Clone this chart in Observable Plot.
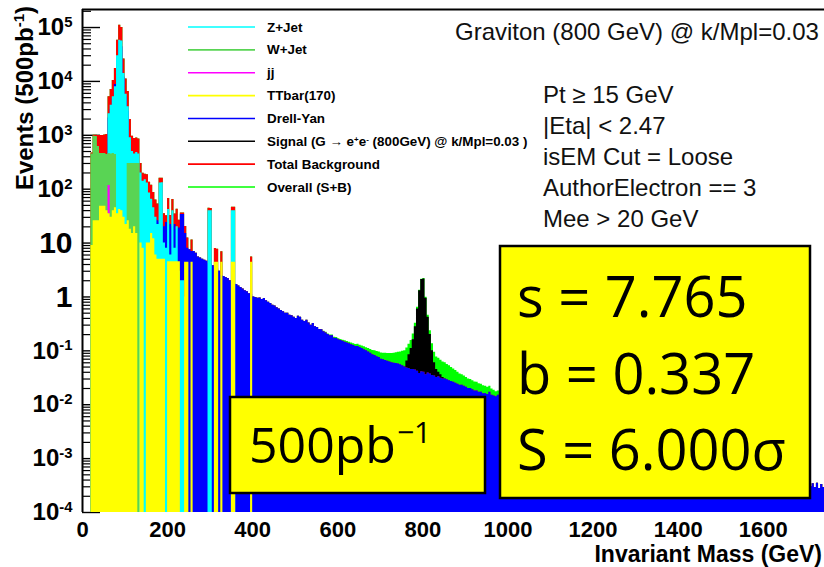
<!DOCTYPE html>
<html>
<head>
<meta charset="utf-8">
<script src="https://cdn.jsdelivr.net/npm/d3@7"></script>
<script src="https://cdn.jsdelivr.net/npm/@observablehq/plot@0.6"></script>
<style>
  body { margin: 0; background: #fff; }
  #chart { position: relative; width: 824px; height: 567px; }
</style>
</head>
<body>
<div id="chart"></div>
<script>
// ---- Binning (GeV) ----
const binWidth = 5;
const massMax = 1744;
const yMin = 1e-4;
const yMax = 2.16e5;

// ---- Z+Jet: 5 GeV bins from 20 GeV, plus isolated high-mass bins ----
const zJetStart = 20;
const zJetValues = [
  5, 10, 15, 150, 230, 230, 240, 300, 2500, 3600, 5200, 8000, 30000, 58000, 56000, 14000,
  5800, 3400, 900, 500, 450, 480, 450, 200, 140, 150, 130, 85, 65, 45, 30, 22,
  130, 132, 10, 8, 42, 6, 40, 8, 20, 3, 2, 2, 1
];
const zJetSpikeMass = [295, 300, 350, 355];
const zJetSpikeValues = [40, 40, 40, 40];

// ---- W+Jet: 5 GeV bins from 20 GeV ----
const wJetStart = 20;
const wJetValues = [
  450, 960, 950, 620, 460, 460, 460, 440, 460, 450, 460, 440, 20, 20, 20, 20, 20,
  300, 300, 300, 300, 300, 300
];

// ---- jj ----
const jjMass = [60];
const jjValues = [117];

// ---- TTbar(170): 5 GeV bins from 20 GeV ----
const ttbarStart = 20;
const ttbarValues = [
  9, 26, 26, 26, 48, 48, 48, 40, 35, 30, 40, 45, 35, 42, 40, 30,
  22, 26, 18, 15, 20, 15, 0, 10, 8, 0, 10, 10, 15, 12, 6, 5,
  5, 5, 5, 0, 4.5, 4.5, 4.5, 4.5, 4.5, 4.5, 0, 0, 4.4, 4.4, 0, 4.4,
  0, 0, 0, 0, 0, 0, 0, 0, 0, 0, 4.4, 4.4, 0, 4.4, 0, 0,
  0, 0, 4.4, 4.4, 0, 0, 0, 0, 0, 0, 0, 4.4
];

// ---- Drell-Yan: 5 GeV bins from 20 GeV to 1745 GeV ----
const drellYanStart = 20;
const drellYanValues = [
  5, 10, 15, 200, 250, 250, 260, 250, 2100, 3000, 4700, 8800, 28000, 52000, 44000, 12000,
  5200, 2800, 750, 150, 100, 100, 100, 90, 50, 40, 45, 40, 38, 30, 27, 26,
  24, 22, 20, 24, 21, 22, 20, 22, 18, 19, 34, 34, 15, 8, 7.5, 7,
  7, 6.5, 5.5, 5.3, 5, 4.8, 4.6, 4.2, 4.0, 3.8, 3.5, 3.3, 3.0, 2.5, 2.4, 2.3,
  2.2, 2.0, 1.9, 1.8, 1.7, 1.6, 1.5, 1.4, 1.3, 1.25, 1.15, 1.1,
  // 400 GeV
  1.0, 0.98, 0.95, 0.96, 0.9, 0.94, 0.85, 0.8, 0.76, 0.7, 0.68, 0.63, 0.6, 0.56, 0.53, 0.5,
  0.5, 0.46, 0.45, 0.42, 0.4, 0.44, 0.42, 0.37, 0.35, 0.37, 0.33, 0.3, 0.32, 0.28, 0.27, 0.25,
  0.245, 0.225, 0.215, 0.2, 0.19, 0.19, 0.172, 0.17, 0.16, 0.155, 0.15, 0.145, 0.14, 0.135, 0.13, 0.125,
  0.12, 0.12, 0.115, 0.11, 0.105, 0.1, 0.095, 0.09, 0.085, 0.082, 0.078, 0.075, 0.07, 0.068, 0.066, 0.064,
  0.062, 0.06, 0.059, 0.058, 0.057, 0.055, 0.053, 0.05, 0.048, 0.047, 0.045, 0.045, 0.044, 0.042, 0.038, 0.041,
  0.04, 0.036, 0.039, 0.037, 0.035, 0.034, 0.032, 0.033, 0.031, 0.03, 0.03, 0.029, 0.028, 0.027, 0.026, 0.025,
  0.024, 0.023, 0.023, 0.022, 0.021, 0.02, 0.02, 0.019, 0.018, 0.018, 0.017, 0.017, 0.016, 0.016, 0.0155, 0.017,
  0.015, 0.0145, 0.014, 0.015, 0.013, 0.013, 0.0125, 0.012,
  // 1000 GeV
  0.0118, 0.0115, 0.0112, 0.011, 0.0106, 0.0104, 0.0101, 0.0098, 0.0096, 0.0093,
  0.0091, 0.0089, 0.0086, 0.0084, 0.0082, 0.008, 0.0078, 0.0076, 0.0074, 0.0072,
  0.007, 0.0068, 0.0067, 0.0065, 0.0063, 0.0062, 0.006, 0.0058, 0.0057, 0.0055,
  0.0054, 0.0052, 0.0051, 0.005, 0.0048, 0.0047, 0.0046, 0.0045, 0.0043, 0.0042,
  0.0041, 0.004, 0.0039, 0.0038, 0.0037, 0.0036, 0.0035, 0.0034, 0.0033, 0.0032,
  0.0031, 0.003, 0.0029, 0.0029, 0.0028, 0.0027, 0.0026, 0.0026, 0.0025, 0.0024,
  0.0024, 0.0023, 0.0022, 0.0022, 0.0021, 0.0021, 0.002, 0.0019, 0.0019, 0.0018,
  0.0018, 0.0017, 0.0017, 0.0016, 0.0016, 0.0015, 0.0015, 0.0014, 0.0014, 0.0014,
  0.0013, 0.0013, 0.0012, 0.0012, 0.0012, 0.0011, 0.0011, 0.0011, 0.001, 0.001,
  0.00098, 0.00095, 0.00092, 0.0009, 0.00087, 0.00085, 0.00082, 0.0008, 0.00078, 0.00075,
  0.00073, 0.00071, 0.00069, 0.00067, 0.00065, 0.00063, 0.00062, 0.0006, 0.00058, 0.00057,
  0.00055, 0.00054, 0.00052, 0.00051, 0.0005, 0.00048, 0.00047, 0.00046, 0.00045, 0.00044,
  0.00043, 0.00042, 0.00041, 0.0004, 0.00039, 0.00038, 0.00037, 0.00037, 0.00036, 0.00035,
  0.00035, 0.00034, 0.00034, 0.00033, 0.00033, 0.00032, 0.00032, 0.00031, 0.00031, 0.0003,
  0.0003, 0.00036, 0.0003, 0.00034, 0.00029, 0.00035, 0.00028, 0.00033, 0.00029, 0.00034
];

// ---- Signal G -> ee (800 GeV), 5 GeV bins from 560 GeV ----
const signalStart = 560;
const signalValues = [
  0.005, 0.005, 0.006, 0.006, 0.006, 0.007, 0.007, 0.007, 0.008, 0.008, 0.008, 0.009, 0.009, 0.01, 0.01, 0.011,
  0.011, 0.012, 0.012, 0.013, 0.014, 0.014, 0.015, 0.016, 0.017, 0.018, 0.019, 0.02, 0.021, 0.022, 0.024, 0.025,
  0.027, 0.029, 0.031, 0.034, 0.037, 0.04, 0.045, 0.05, 0.065, 0.085, 0.11, 0.16, 0.28, 0.6, 1.3, 2.1,
  2.15, 0.95, 0.42, 0.2, 0.1, 0.06, 0.045, 0.04, 0.036, 0.032, 0.03, 0.027, 0.025, 0.022, 0.02, 0.018,
  0.016, 0.014, 0.013, 0.012, 0.011, 0.01, 0.0095, 0.009, 0.0085, 0.008, 0.0075, 0.007, 0.0065, 0.006, 0.0055, 0.005,
  0.0045, 0.004, 0.0035, 0.003, 0.0025, 0.002, 0.0015, 0.001
];

// ---- Axis ticks ----
const xTicks = [0, 200, 400, 600, 800, 1000, 1200, 1400, 1600];
const yMajorTicks = [1e-4, 1e-3, 1e-2, 1e-1, 1, 10, 1e2, 1e3, 1e4, 1e5];

// ---- Legend ----
const legendLabels = ["Z+Jet", "W+Jet", "jj", "TTbar(170)", "Drell-Yan",
  "Signal (G \u2192 e^{+}e^{-} (800GeV) @ k/Mpl=0.03 )", "Total Background", "Overall (S+B)"];
const legendColors = ["#00ffff", "#59d454", "#ff00ff", "#ffff00", "#0000ff", "#000000", "#ff0000", "#00ff00"];

const cutLines = ["Pt \u2265 15 GeV", "|Eta| < 2.47", "isEM Cut = Loose", "AuthorElectron == 3", "Mee > 20 GeV"];
const resultLines = ["s = 7.765", "b = 0.337", "S = 6.000\u03c3"];

// ---- Build binned series ----
const bins = d3.range(0, 1745, binWidth);
function dense(start, values) {
  const out = new Array(bins.length).fill(0);
  values.forEach((v, i) => {
    const k = Math.round((start + i * binWidth) / binWidth);
    if (k < out.length) out[k] = v;
  });
  return out;
}
function sparse(masses, values) {
  const out = new Array(bins.length).fill(0);
  masses.forEach((m, i) => { out[Math.round(m / binWidth)] = values[i]; });
  return out;
}
const zJetSpikes = sparse(zJetSpikeMass, zJetSpikeValues);
const zJetBins = dense(zJetStart, zJetValues).map((v, i) => v + zJetSpikes[i]);
const wJetBins = dense(wJetStart, wJetValues);
const jjBins = sparse(jjMass, jjValues);
const ttbarBins = dense(ttbarStart, ttbarValues);
const dyBins = dense(drellYanStart, drellYanValues);
const signalBins = dense(signalStart, signalValues);
const totalBins = bins.map((_, i) => zJetBins[i] + wJetBins[i] + jjBins[i] + ttbarBins[i] + dyBins[i]);
const overallBins = totalBins.map((v, i) => v + signalBins[i]);

// step outline of a histogram, floored at the bottom of the log axis
function steps(vals) {
  const pts = bins.map((lo, i) => ({m: lo, v: Math.max(vals[i], yMin)}));
  pts.push({m: bins[bins.length - 1] + binWidth, v: pts[pts.length - 1].v});
  return pts;
}
function hist(vals, color) {
  return Plot.areaY(steps(vals), {x: "m", y1: yMin, y2: "v", curve: "step-after", fill: color});
}

const yMinorTicks = [];
for (let k = -4; k <= 5; k++) for (let j = 2; j <= 9; j++) {
  const v = j * Math.pow(10, k);
  if (v < yMax) yMinorTicks.push(v);
}
function powLabel(d) {
  const k = Math.round(Math.log10(d));
  if (k === 0) return "1";
  if (k === 1) return "10";
  return "10^" + k;
}

const chart = Plot.plot({
  width: 824,
  height: 567,
  marginLeft: 82,
  marginRight: 0,
  marginTop: 9,
  marginBottom: 55,
  style: {fontFamily: "'Liberation Sans', Arial, sans-serif", background: "#fff"},
  x: {domain: [0, massMax]},
  y: {type: "log", domain: [yMin, yMax]},
  marks: [
    Plot.axisY({ticks: yMinorTicks, tickSize: -9, tickFormat: () => "", label: null, strokeWidth: 1.2}),
    Plot.axisY({ticks: yMajorTicks, tickSize: -18, tickFormat: () => "", label: null, strokeWidth: 1.4}),
    // overlaid (not stacked) histograms, back to front
    hist(overallBins, "#00ff00"),
    hist(signalBins, "#000000"),
    hist(totalBins, "#ff0000"),
    hist(dyBins, "#0000ff"),
    hist(zJetBins, "#00ffff"),
    hist(wJetBins, "#59d454"),
    hist(jjBins, "#ff00ff"),
    hist(ttbarBins, "#ffff00"),
    Plot.axisY({ticks: yMajorTicks, tickSize: 0, tickPadding: 10, tickFormat: powLabel,
      fontSize: 24, fontWeight: "bold", label: null}),
    Plot.axisX({ticks: xTicks, tickSize: 0, tickPadding: 9, tickFormat: d3.format("d"),
      fontSize: 22, fontWeight: "bold", label: null}),
    Plot.ruleX([0], {strokeWidth: 2}),
    Plot.ruleY([yMax], {strokeWidth: 2})
  ]
});
document.getElementById("chart").appendChild(chart);

const svg = d3.select(chart);

// exponent tick labels: 10^k drawn with a raised exponent
svg.selectAll('g[aria-label="y-axis tick label"] text').each(function () {
  const s = this.textContent;
  const t = d3.select(this);
  if (s.includes("^")) {
    const [base, exp] = s.split("^");
    t.text(null);
    t.append("tspan").text(base);
    t.append("tspan").attr("dy", "-0.55em").attr("font-size", "0.62em").text(exp);
  } else {
    t.attr("font-size", 30);
  }
});

// text with ^{...} superscripts
function rich(sel, str, supScale, rise) {
  const parts = str.split(/(\^\{[^}]*\})/).filter(p => p.length);
  let raised = false;
  parts.forEach(p => {
    if (p.startsWith("^{")) {
      sel.append("tspan").attr("dy", raised ? 0 : -rise).attr("font-size", supScale).text(p.slice(2, -1));
      raised = true;
    } else {
      const ts = sel.append("tspan").text(p);
      if (raised) { ts.attr("dy", rise); raised = false; }
    }
  });
  return sel;
}

const sans = "'Liberation Sans', Arial, sans-serif";
const boxFont = "'Open Sans', sans-serif";
const notes = svg.append("g").attr("text-anchor", "start");

// axis titles
rich(notes.append("text")
  .attr("transform", "translate(33,6) rotate(-90)")
  .attr("text-anchor", "end")
  .attr("font-family", sans).attr("font-weight", "bold").attr("font-size", 24),
  "Events (500pb^{-1})", 15, 9);
notes.append("text")
  .attr("x", 822).attr("y", 562).attr("text-anchor", "end")
  .attr("font-family", sans).attr("font-weight", "bold").attr("font-size", 23)
  .text("Invariant Mass (GeV)");

// legend
const legend = notes.append("g").attr("font-family", sans).attr("font-weight", "bold").attr("font-size", 13.4);
legendLabels.forEach((lab, i) => {
  const y = 27 + i * 22.86;
  legend.append("line").attr("x1", 188).attr("x2", 255).attr("y1", y).attr("y2", y)
    .attr("stroke", legendColors[i]).attr("stroke-width", 1.6);
  rich(legend.append("text").attr("x", 267).attr("y", y + 4.5), lab, 8, 4);
});

// process label and selection cuts
const info = notes.append("g").attr("font-family", sans).attr("font-size", 24).attr("fill", "#111");
info.append("text").attr("x", 455).attr("y", 40).text("Graviton (800 GeV) @ k/Mpl=0.03");
cutLines.forEach((s, i) => {
  info.append("text").attr("x", 543).attr("y", 103 + i * 31).text(s);
});

// luminosity box
notes.append("rect").attr("x", 230).attr("y", 397).attr("width", 255).attr("height", 96)
  .attr("fill", "#ffff00").attr("stroke", "#000").attr("stroke-width", 2.5);
const lumi = notes.append("text").attr("x", 249).attr("y", 463)
  .attr("font-family", boxFont).attr("font-size", 50);
lumi.append("tspan").text("500pb");
lumi.append("tspan").attr("dx", 1).attr("dy", -20).attr("font-size", 30).text("\u22121");

// significance box
notes.append("rect").attr("x", 500).attr("y", 246).attr("width", 310).attr("height", 252)
  .attr("fill", "#ffff00").attr("stroke", "#000").attr("stroke-width", 2.5);
resultLines.forEach((s, i) => {
  notes.append("text").attr("x", 517).attr("y", 317 + i * 76.5)
    .attr("font-family", boxFont).attr("font-size", 56).text(s);
});
</script>
</body>
</html>
